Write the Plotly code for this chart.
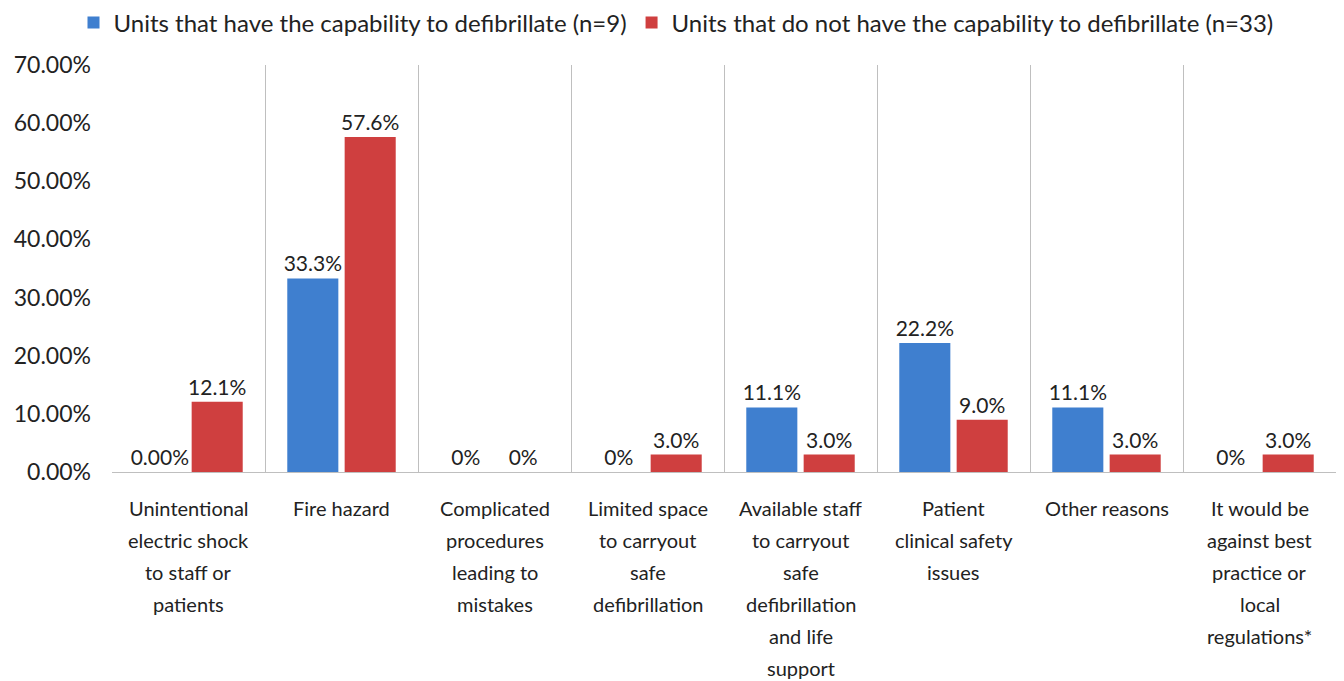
import plotly.graph_objects as go

categories = [
    "Unintentional<br>electric shock<br>to staff or<br>patients",
    "Fire hazard",
    "Complicated<br>procedures<br>leading to<br>mistakes",
    "Limited space<br>to carryout<br>safe<br>defibrillation",
    "Available staff<br>to carryout<br>safe<br>defibrillation<br>and life<br>support",
    "Patient<br>clinical safety<br>issues",
    "Other reasons",
    "It would be<br>against best<br>practice or<br>local<br>regulations*",
]
with_defib = [0.0, 0.333, 0.0, 0.0, 0.111, 0.222, 0.111, 0.0]
with_labels = ["0.00%", "33.3%", "0%", "0%", "11.1%", "22.2%", "11.1%", "0%"]
without_defib = [0.121, 0.576, 0.0, 0.030, 0.030, 0.090, 0.030, 0.030]
without_labels = ["12.1%", "57.6%", "0%", "3.0%", "3.0%", "9.0%", "3.0%", "3.0%"]

font = "Lato, 'Open Sans', sans-serif"

fig = go.Figure()
fig.add_trace(go.Bar(
    x=categories, y=with_defib, text=with_labels,
    name="Units that have the capability to defibrillate (n=9)",
    marker=dict(color="#3F7FCF", line=dict(width=0)),
    textposition="outside", constraintext="none", cliponaxis=False,
    textfont=dict(size=21, color="#222"),
))
fig.add_trace(go.Bar(
    x=categories, y=without_defib, text=without_labels,
    name="Units that do not have the capability to defibrillate (n=33)",
    marker=dict(color="#CF3F3F", line=dict(width=0)),
    textposition="outside", constraintext="none", cliponaxis=False,
    textfont=dict(size=21, color="#222"),
))

# category labels, one annotation per line so the line spacing matches
for cat in categories:
    for k, line in enumerate(cat.split("<br>")):
        fig.add_annotation(
            x=cat, y=0, xref="x", yref="y", text=line, showarrow=False,
            yanchor="middle", yshift=-36 - 32 * k,
            font=dict(size=20, color="#222"),
        )

# page body has an 8px margin, so the figure is drawn 8px smaller
fig.update_layout(
    width=1336, height=673,
    barmode="group", bargap=0.25, bargroupgap=0.11,
    plot_bgcolor="white", paper_bgcolor="white",
    font=dict(family=font, size=20, color="#222"),
    margin=dict(l=104, r=8, t=57, b=209, autoexpand=False),
    legend=dict(orientation="h", x=0.5, xanchor="center", xref="container",
                y=0.978, yanchor="middle", yref="container",
                font=dict(size=24), itemwidth=30, traceorder="normal"),
    showlegend=True,
)
fig.update_xaxes(
    type="category", tickson="boundaries", showgrid=True,
    gridcolor="#BFBFBF", gridwidth=1, showline=True, linecolor="#BFBFBF",
    ticks="", showticklabels=False,
)
fig.update_yaxes(
    range=[0, 0.7], dtick=0.1, tickformat=".2%", showgrid=False,
    showline=False, zeroline=False, ticks="", tickfont=dict(size=23),
    ticklabelstandoff=20,
)

fig.write_html("out.html")
